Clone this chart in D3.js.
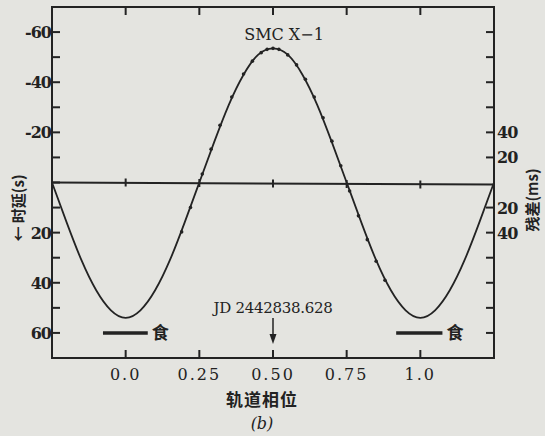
<!DOCTYPE html>
<meta charset="utf-8">
<style>
body { margin: 0; background: #e4e4e0; }
svg { display: block; }
text { font-family: "DejaVu Serif", "Liberation Serif", serif; fill: #222; }
.cjk { font-family: "Noto Sans CJK SC", sans-serif; font-weight: 700; }
</style>
<script src="https://cdn.jsdelivr.net/npm/d3@7"></script>
<body>
<script>
// delay curve (phase, delay in s; positive = down)
var curvePhase = [-0.25, -0.20, -0.15, -0.10, -0.05, 0.00, 0.05, 0.10, 0.15, 0.20, 0.25,
  0.30, 0.35, 0.40, 0.45, 0.50, 0.55, 0.60, 0.65, 0.70, 0.75,
  0.80, 0.85, 0.90, 0.95, 1.00, 1.05, 1.10, 1.15, 1.20, 1.25];
var curveDelay = [0, 16, 31, 43, 51, 54, 51, 43, 31, 16, 0,
  -16, -31, -43, -51, -53.5, -51, -43, -31, -16, 0,
  16, 31, 43, 51, 54, 51, 43, 31, 16, 0];
// observed points sitting on the curve
var obsPhase = [0.19, 0.22, 0.26, 0.29, 0.32, 0.36, 0.40, 0.43, 0.46, 0.48, 0.50, 0.52,
  0.55, 0.58, 0.61, 0.64, 0.67, 0.70, 0.73, 0.76, 0.79, 0.82, 0.85, 0.88];
var obsDelay = [19.7, 10, -3.4, -13.3, -22.8, -34.1, -43.3, -48.4, -51.8, -53.1, -53.5, -53.1,
  -50.9, -46.9, -41.2, -34.1, -25.8, -16.5, -6.7, 3.4, 13.3, 22.8, 31.4, 39];
var phaseTicks = [0, 0.25, 0.5, 0.75, 1.0];
var phaseLabels = ["0.0", "0.25", "0.50", "0.75", "1.0"];
var delayLabels = [-60, -40, -20, 20, 40, 60];
var residLabels = [-40, -20, 20, 40];
var eclipses = [[-0.077, 0.075], [0.918, 1.075]];

var W = 545, H = 436;
var L = 52, R = 494, T = 7, B = 358;
var ink = "#232323";

var svg = d3.select("body").append("svg").attr("width", W).attr("height", H);

var x = d3.scaleLinear().domain([-0.25, 1.25]).range([L, R]);
var y = d3.scaleLinear().domain([-70, 70]).range([T, B]);
var y2 = d3.scaleLinear().domain([-140, 140]).range([T, B]);

// frame
svg.append("rect").attr("x", L).attr("y", T).attr("width", R - L).attr("height", B - T)
  .attr("fill", "none").attr("stroke", ink).attr("stroke-width", 2);

// left axis ticks (every 10 s)
svg.selectAll("line.lt").data(d3.range(-60, 61, 10)).enter().append("line")
  .attr("x1", L).attr("x2", L + 8)
  .attr("y1", function(d) { return y(d); }).attr("y2", function(d) { return y(d); })
  .attr("stroke", ink).attr("stroke-width", 2);
svg.selectAll("text.ll").data(delayLabels).enter().append("text")
  .attr("x", L - 1).attr("y", function(d) { return y(d) + 6; })
  .attr("text-anchor", "end").attr("font-size", 16).attr("font-weight", 700)
  .attr("letter-spacing", -1)
  .text(function(d) { return d; });

// right axis ticks (every 20 ms)
svg.selectAll("line.rt").data(d3.range(-120, 121, 20).filter(function(d) { return d != 0; })).enter().append("line")
  .attr("x1", R - 8).attr("x2", R)
  .attr("y1", function(d) { return y2(d); }).attr("y2", function(d) { return y2(d); })
  .attr("stroke", ink).attr("stroke-width", 2);
svg.selectAll("text.rl").data(residLabels).enter().append("text")
  .attr("x", R + 3).attr("y", function(d) { return y2(d) + 6; })
  .attr("font-size", 16).attr("font-weight", 700).attr("letter-spacing", -1)
  .text(function(d) { return Math.abs(d); });

// top / bottom phase ticks
svg.selectAll("line.tt").data(phaseTicks).enter().append("line")
  .attr("x1", function(d) { return x(d); }).attr("x2", function(d) { return x(d); })
  .attr("y1", T).attr("y2", T + 8).attr("stroke", ink).attr("stroke-width", 2);
svg.selectAll("line.bt").data(phaseTicks).enter().append("line")
  .attr("x1", function(d) { return x(d); }).attr("x2", function(d) { return x(d); })
  .attr("y1", B - 8).attr("y2", B).attr("stroke", ink).attr("stroke-width", 2);
svg.selectAll("text.bl").data(phaseTicks).enter().append("text")
  .attr("x", function(d) { return x(d); }).attr("y", B + 22)
  .attr("text-anchor", "middle").attr("font-size", 16).attr("letter-spacing", 2)
  .text(function(d, i) { return phaseLabels[i]; });

// zero (residual) line with small ticks
svg.append("line").attr("x1", L).attr("x2", R).attr("y1", y(0)).attr("y2", y(0) + 2)
  .attr("stroke", ink).attr("stroke-width", 2);
svg.selectAll("line.zt").data(phaseTicks).enter().append("line")
  .attr("x1", function(d) { return x(d); }).attr("x2", function(d) { return x(d); })
  .attr("y1", function(d) { return y(0) - 4 + d * 2; }).attr("y2", function(d) { return y(0) + 4 + d * 2; })
  .attr("stroke", ink).attr("stroke-width", 2);

// delay curve
var pts = curvePhase.map(function(p, i) { return [p, curveDelay[i]]; });
var line = d3.line().x(function(d) { return x(d[0]); }).y(function(d) { return y(d[1]); })
  .curve(d3.curveNatural);
svg.append("path").datum(pts).attr("d", line)
  .attr("fill", "none").attr("stroke", ink).attr("stroke-width", 1.8);

svg.selectAll("circle").data(obsPhase).enter().append("circle")
  .attr("cx", function(d) { return x(d); })
  .attr("cy", function(d, i) { return y(obsDelay[i]); })
  .attr("r", 1.8).attr("fill", ink);

// eclipse bars
eclipses.forEach(function(e) {
  svg.append("line").attr("x1", x(e[0])).attr("x2", x(e[1]))
    .attr("y1", y(60)).attr("y2", y(60)).attr("stroke", ink).attr("stroke-width", 3.5);
  svg.append("text").attr("class", "cjk").attr("x", x(e[1]) + 4).attr("y", y(60) + 6)
    .attr("font-size", 17).text("食");
});

// labels
svg.append("text").attr("x", 284).attr("y", 40).attr("text-anchor", "middle")
  .attr("font-size", 16).text("SMC X\u22121");
svg.append("text").attr("x", 273).attr("y", 313).attr("text-anchor", "middle")
  .attr("font-size", 15).attr("letter-spacing", -0.3).text("JD 2442838.628");
svg.append("line").attr("x1", x(0.5)).attr("x2", x(0.5)).attr("y1", 318).attr("y2", 336)
  .attr("stroke", ink).attr("stroke-width", 1.5);
svg.append("path").attr("d", "M" + (x(0.5) - 3.5) + ",334 L" + (x(0.5) + 3.5) + ",334 L" + x(0.5) + ",344 Z")
  .attr("fill", ink);

svg.append("text").attr("class", "cjk").attr("x", 262).attr("y", 406).attr("text-anchor", "middle")
  .attr("font-size", 17).attr("letter-spacing", 1).text("轨道相位");
svg.append("text").attr("x", 262).attr("y", 429).attr("text-anchor", "middle")
  .attr("font-size", 16).attr("font-style", "italic").text("(b)");

svg.append("text").attr("class", "cjk")
  .attr("transform", "translate(24,208) rotate(-90)").attr("text-anchor", "middle")
  .attr("font-size", 15).text("\u2190 时延(s)");
svg.append("text").attr("class", "cjk")
  .attr("transform", "translate(538,200) rotate(-90)").attr("text-anchor", "middle")
  .attr("font-size", 15).text("残差(ms)");
</script>
</body>
